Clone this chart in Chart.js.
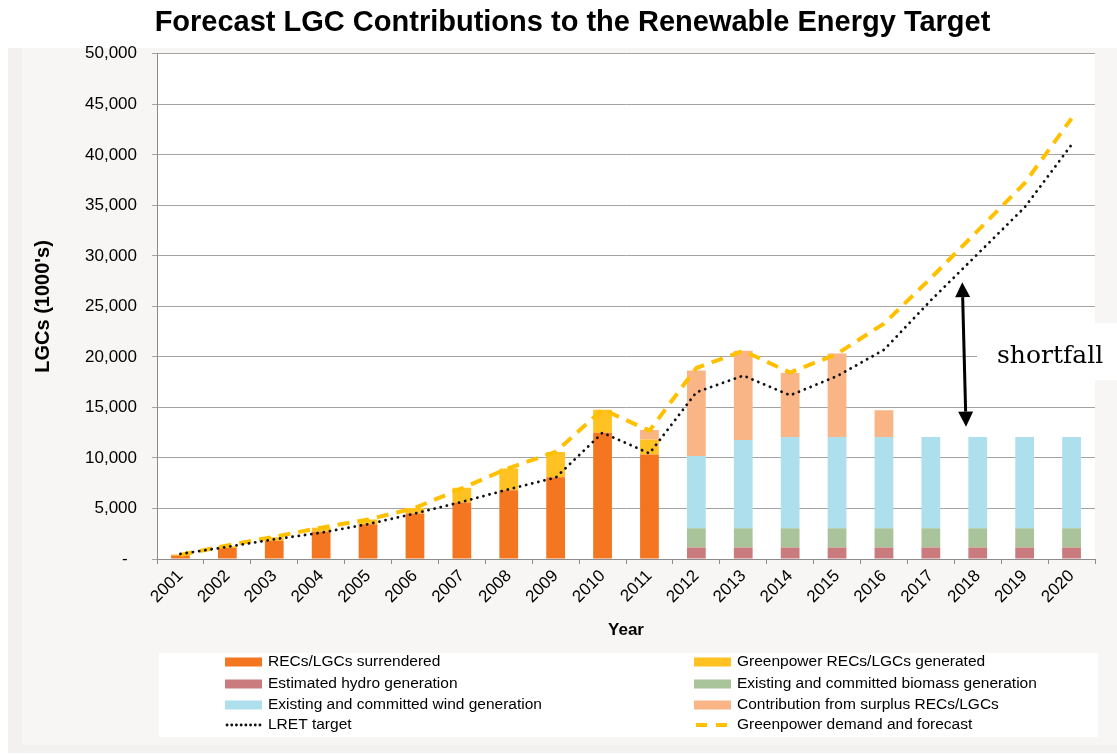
<!DOCTYPE html>
<html>
<head>
<meta charset="utf-8">
<title>Forecast LGC Contributions to the Renewable Energy Target</title>
<script src="https://cdn.jsdelivr.net/npm/chart.js@4.4.0/dist/chart.umd.min.js"></script>
<style>
  html, body { margin: 0; padding: 0; background: #ffffff; }
  #wrap { width: 1117px; height: 754px; }
</style>
</head>
<body>
<div id="wrap"><canvas id="chart" width="1117" height="754"></canvas></div>
<script>
// Years on the category axis
const years = ['2001','2002','2003','2004','2005','2006','2007','2008','2009','2010',
               '2011','2012','2013','2014','2015','2016','2017','2018','2019','2020'];

// Stacked contributions, thousands of LGCs
const recsSurrendered   = [350, 1100, 1800, 2700, 3450, 4500, 5600, 6800, 8100, 12500, 10350, null, null, null, null, null, null, null, null, null];
const greenpowerRecs    = [100, 150, 350, 400, 450, 550, 1450, 2150, 2500, 2280, 1470, null, null, null, null, null, null, null, null, null];
const hydroGeneration   = [null, null, null, null, null, null, null, null, null, null, null, 1150, 1150, 1150, 1150, 1150, 1150, 1150, 1150, 1150];
const biomassGeneration = [null, null, null, null, null, null, null, null, null, null, null, 1900, 1900, 1900, 1900, 1900, 1900, 1900, 1900, 1900];
const windGeneration    = [null, null, null, null, null, null, null, null, null, null, null, 7150, 8730, 9030, 9030, 9030, 9030, 9030, 9030, 9030];
const surplusRecs       = [null, null, null, null, null, null, null, null, null, null, 940, 8450, 8820, 6330, 8250, 2650, null, null, null, null];

// Target and demand lines
const lretTarget        = [500, 1200, 1950, 2600, 3450, 4500, 5650, 6900, 8050, 12500, 10450, 16500, 18150, 16200, 18100, 20700, 25600, 30200, 34800, 41000];
const greenpowerDemand  = [400, 1350, 2200, 3100, 3900, 5050, 7000, 9000, 10600, 14800, 12700, 18900, 20600, 18450, 20300, 23300, 27800, 32500, 37200, 43600];

// Y axis range
const yMin = 0, yMax = 50000, yStep = 5000;

// Shortfall annotation: arrow between these levels, placed between 2017 and 2018
const shortfallTop = 27400, shortfallBottom = 13100, shortfallIndexTop = 16.67, shortfallIndexBottom = 16.75;

const SANS = "'Liberation Sans', Arial, sans-serif";

const C = {
  surrendered: '#f47621',
  greenpower: '#ffc222',
  hydro: '#c97b7e',
  biomass: '#a9c49a',
  wind: '#addfec',
  surplus: '#f9b586',
  lret: '#111111',
  demand: '#ffc000'
};

function bar(label, data, color) {
  return { type: 'bar', label, data, backgroundColor: color, borderWidth: 0,
           stack: 'lgc', order: 2, barPercentage: 0.8, categoryPercentage: 0.5 };
}

const datasets = [
  bar('RECs/LGCs surrendered', recsSurrendered, C.surrendered),
  bar('Greenpower RECs/LGCs generated', greenpowerRecs, C.greenpower),
  bar('Estimated hydro generation', hydroGeneration, C.hydro),
  bar('Existing and committed biomass generation', biomassGeneration, C.biomass),
  bar('Existing and committed wind generation', windGeneration, C.wind),
  bar('Contribution from surplus RECs/LGCs', surplusRecs, C.surplus),
  { type: 'line', label: 'LRET target', data: lretTarget, stack: 'lret', order: 0,
    borderColor: C.lret, borderWidth: 2.8, borderDash: [0.1, 6.2], borderCapStyle: 'round',
    pointRadius: 0, tension: 0, fill: false },
  { type: 'line', label: 'Greenpower demand and forecast', data: greenpowerDemand, stack: 'demand', order: 1,
    borderColor: C.demand, borderWidth: 4, borderDash: [12, 8], borderCapStyle: 'butt',
    pointRadius: 0, tension: 0, fill: false }
];

// Page panel, plot background and the white strip behind the annotation text
const backdrop = {
  id: 'backdrop',
  beforeDraw(chart) {
    const { ctx, chartArea: a } = chart;
    ctx.save();
    ctx.fillStyle = '#ffffff';
    ctx.fillRect(0, 0, chart.width, chart.height);
    ctx.fillStyle = '#f2f1f0';
    ctx.fillRect(8, 48, chart.width - 8, 705);
    ctx.fillStyle = '#f7f6f5';
    ctx.fillRect(22, 48, chart.width - 22, 697);
    ctx.fillStyle = '#ffffff';
    ctx.fillRect(a.left, a.top, a.right - a.left, a.bottom - a.top);
    ctx.restore();
  },
  beforeDatasetsDraw(chart) {
    const { ctx, chartArea: a } = chart;
    const y = chart.scales.y.getPixelForValue(20000) + 6;
    ctx.save();
    ctx.fillStyle = '#ffffff';
    ctx.fillRect(a.right - 118, y - 40, chart.width - (a.right - 118), 57);
    ctx.restore();
  }
};

// Shortfall arrow and label
const shortfall = {
  id: 'shortfall',
  afterDatasetsDraw(chart) {
    const { ctx, chartArea: a } = chart;
    const xs = chart.scales.x, ys = chart.scales.y;
    const x1 = xs.getPixelForValue(shortfallIndexTop), y1 = ys.getPixelForValue(shortfallTop);
    const x2 = xs.getPixelForValue(shortfallIndexBottom), y2 = ys.getPixelForValue(shortfallBottom);
    const head = 15, half = 7.5;
    const ang = Math.atan2(y2 - y1, x2 - x1);
    ctx.save();
    ctx.strokeStyle = '#000';
    ctx.fillStyle = '#000';
    ctx.lineWidth = 3;
    ctx.beginPath();
    ctx.moveTo(x1 + Math.cos(ang) * head, y1 + Math.sin(ang) * head);
    ctx.lineTo(x2 - Math.cos(ang) * head, y2 - Math.sin(ang) * head);
    ctx.stroke();
    const tri = (tx, ty, dir) => {
      const bx = tx + Math.cos(ang) * head * dir, by = ty + Math.sin(ang) * head * dir;
      const px = -Math.sin(ang) * half, py = Math.cos(ang) * half;
      ctx.beginPath();
      ctx.moveTo(tx, ty);
      ctx.lineTo(bx + px, by + py);
      ctx.lineTo(bx - px, by - py);
      ctx.closePath();
      ctx.fill();
    };
    tri(x1, y1, 1);
    tri(x2, y2, -1);
    ctx.font = "25px 'DejaVu Serif', serif";
    ctx.textAlign = 'left';
    ctx.textBaseline = 'alphabetic';
    ctx.fillText('shortfall', a.right - 98, ys.getPixelForValue(20000) + 6);
    ctx.restore();
  }
};

// Two-column legend built from the chart's datasets
const gridLegend = {
  id: 'gridLegend',
  afterDraw(chart) {
    const { ctx } = chart;
    const ds = chart.data.datasets;
    const colX = [225, 694], rowY = [662, 684, 705, 725];
    ctx.save();
    ctx.fillStyle = '#ffffff';
    ctx.fillRect(159, 653, 939, 84);
    ctx.font = '15.5px ' + SANS;
    ctx.textBaseline = 'middle';
    ctx.textAlign = 'left';
    ds.forEach((d, i) => {
      const x = colX[i % 2], y = rowY[Math.floor(i / 2)];
      if (d.type === 'bar') {
        ctx.fillStyle = d.backgroundColor;
        ctx.fillRect(x, y - 4.5, 37, 9);
      } else {
        const dotted = d.stack === 'lret';
        ctx.strokeStyle = d.borderColor;
        ctx.lineWidth = dotted ? 2.8 : 4;
        ctx.setLineDash(dotted ? [0.1, 4.6] : [11, 9]);
        ctx.lineCap = dotted ? 'round' : 'butt';
        ctx.beginPath();
        ctx.moveTo(x + 2, y);
        ctx.lineTo(x + 37, y);
        ctx.stroke();
        ctx.setLineDash([]);
      }
      ctx.fillStyle = '#000';
      ctx.fillText(d.label, x + 43, y);
    });
    ctx.restore();
  }
};

new Chart(document.getElementById('chart'), {
  data: { labels: years, datasets },
  plugins: [backdrop, shortfall, gridLegend],
  options: {
    responsive: false,
    animation: false,
    events: [],
    layout: { padding: { left: 50, right: 22, top: 0, bottom: 105 } },
    plugins: {
      legend: { display: false },
      tooltip: { enabled: false },
      title: {
        display: true,
        text: 'Forecast LGC Contributions to the Renewable Energy Target',
        color: '#000',
        font: { family: SANS, size: 29, weight: 'bold' },
        padding: { top: 6, bottom: 13 }
      }
    },
    scales: {
      x: {
        stacked: true,
        offset: true,
        grid: { display: true, drawOnChartArea: false, drawTicks: true, tickLength: 5, color: '#8c8c8c', offset: true },
        border: { display: true, color: '#8c8c8c' },
        ticks: { color: '#000', font: { family: SANS, size: 17 }, minRotation: 45, maxRotation: 45, autoSkip: false, padding: 2 },
        title: { display: true, text: 'Year', color: '#000', font: { family: SANS, size: 17, weight: 'bold' }, padding: { top: 0, bottom: 8 } },
        afterFit(s) { s.height = 90; }
      },
      y: {
        stacked: true,
        min: yMin,
        max: yMax,
        grid: { color: '#a3a3a3', tickLength: 5, drawTicks: true },
        border: { display: true, color: '#8c8c8c' },
        ticks: {
          stepSize: yStep,
          color: '#000',
          padding: 15,
          font: { family: SANS, size: 17 },
          callback: v => v === 0 ? '-  ' : v.toLocaleString('en-US')
        },
        title: { display: true, text: "LGCs (1000's)", color: '#000', font: { family: SANS, size: 20, weight: 'bold' }, padding: { top: -19, bottom: 0 } },
        afterFit(s) { s.width = 107; }
      }
    }
  }
});
</script>
</body>
</html>
